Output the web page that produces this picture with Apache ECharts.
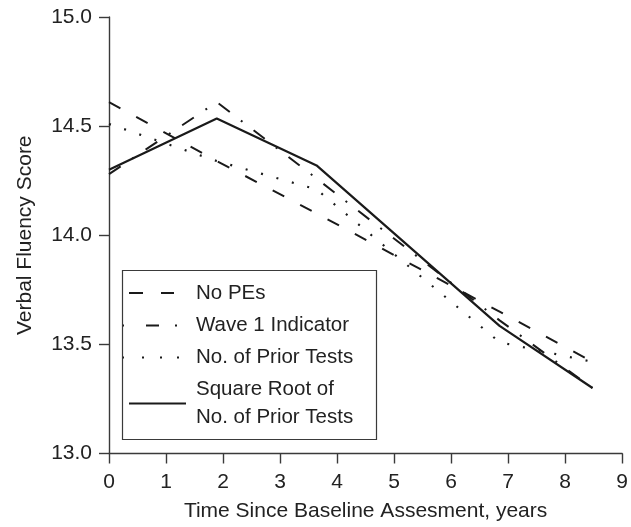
<!DOCTYPE html>
<html>
<head>
<meta charset="utf-8">
<script src="https://cdn.jsdelivr.net/npm/echarts@6/dist/echarts.min.js"></script>
<style>html,body{margin:0;padding:0;background:#fff;}#c{width:631px;height:527px;}</style>
</head>
<body>
<div id="c"></div>
<script>
var years = [0, 1.89, 3.64, 6.85, 8.48];
var noPEs = [14.61, 14.34, 14.10, 13.65, 13.42];
var wave1 = [14.28, 14.61, 14.26, 13.61, 13.30];
var priorTests = [14.51, 14.34, 14.21, 13.51, 13.42];
var sqrtPrior = [14.30, 14.535, 14.32, 13.585, 13.30];
var names = ['No PEs', 'Wave 1 Indicator', 'No. of Prior Tests', 'Square Root of\nNo. of Prior Tests'];
var xTicks = [0, 1, 2, 3, 4, 5, 6, 7, 8, 9];
var yTicks = [13.0, 13.5, 14.0, 14.5, 15.0];

function pairs(v) { return years.map(function (x, i) { return [x, v[i]]; }); }

var FONT = '"Liberation Sans", Arial, sans-serif';
var INK = '#1a1a1a';
var AX = '#3a3a3a';

var chart = echarts.init(document.getElementById('c'));
function mk(name, vals, dash, w) {
  return {
    name: name, type: 'line', data: pairs(vals), symbol: 'none', silent: true,
    color: INK,
    lineStyle: { color: INK, width: w, type: dash, cap: 'butt' }
  };
}
function leg(name, top, dash, lh) {
  return {
    orient: 'vertical', left: 121, top: top, padding: 0,
    itemWidth: 64, itemHeight: 14, itemGap: 0,
    data: [name], selectedMode: false,
    itemStyle: { opacity: 0 },
    lineStyle: { width: 2, type: dash, cap: 'butt' },
    textStyle: { fontFamily: FONT, fontSize: 20.5, color: '#222', lineHeight: lh, padding: [0, 0, 0, 5] }
  };
}
chart.setOption({
  animation: false,
  grid: { left: 109, right: 8, top: 17, bottom: 73 },
  xAxis: {
    type: 'value', min: 0, max: 9, interval: 1,
    name: 'Time Since Baseline Assesment, years', nameLocation: 'middle', nameGap: 47.5,
    nameTextStyle: { fontFamily: FONT, fontSize: 21, color: '#222' },
    axisLine: { show: true, lineStyle: { color: AX, width: 1.4 } },
    axisTick: { show: true, length: 10, lineStyle: { color: AX, width: 1.4 } },
    axisLabel: { fontFamily: FONT, fontSize: 21, color: '#222', margin: 18,
      formatter: function (v) { return xTicks.indexOf(v) >= 0 ? String(v) : ''; } },
    splitLine: { show: false }
  },
  yAxis: {
    type: 'value', min: 13, max: 15, interval: 0.5,
    name: 'Verbal Fluency Score', nameLocation: 'middle', nameGap: 73.5,
    nameTextStyle: { fontFamily: FONT, fontSize: 21, color: '#222' },
    axisLine: { show: true, lineStyle: { color: AX, width: 1.4 } },
    axisTick: { show: true, length: 10, lineStyle: { color: AX, width: 1.4 } },
    axisLabel: { fontFamily: FONT, fontSize: 21, color: '#222', margin: 17,
      formatter: function (v) { return yTicks.indexOf(v) >= 0 ? v.toFixed(1) : ''; } },
    splitLine: { show: false }
  },
  legend: [
    leg(names[0], 279, [0, 7, 14, 18, 13, 30], 28),
    leg(names[1], 311.5, [2, 22, 13, 16, 2, 30], 28),
    leg(names[2], 343.5, [2, 18, 2, 16, 2, 15, 2, 30], 28),
    leg(names[3], 375.5, [0, 7, 57, 10], 28)
  ],
  graphic: [{
    type: 'rect', left: 120, top: 268, z: 10,
    shape: { width: 254, height: 169 },
    style: { fill: 'none', stroke: AX, lineWidth: 1.2 }
  }],
  series: [
    mk(names[0], noPEs, [13, 18], 2),
    mk(names[1], wave1, [14, 14, 2, 14], 2),
    mk(names[2], priorTests, [2, 14], 2.2),
    mk(names[3], sqrtPrior, 'solid', 2.2)
  ]
});
</script>
</body>
</html>
